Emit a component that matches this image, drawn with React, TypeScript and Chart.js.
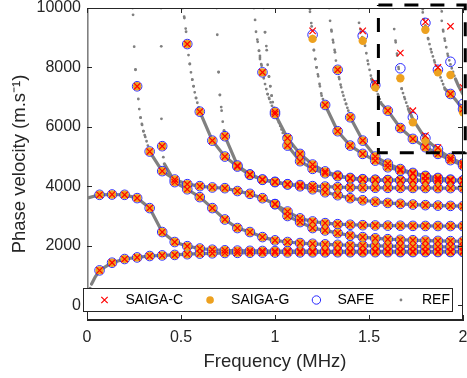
import React, { useEffect, useRef } from 'react';
import { Chart, registerables } from 'chart.js';

Chart.register(...registerables);

// ---------- axes ----------
const xTicks = [0, 0.5, 1, 1.5, 2];
const yTicks = [0, 2000, 4000, 6000, 8000, 10000];
const xRange = [0, 2];
const yRange = [-500, 10000];
const xTitle = 'Frequency (MHz)';
const yTitle = 'Phase velocity (m.s\u207B\u00B9)';
const seriesNames = ['SAIGA-C', 'SAIGA-G', 'SAFE', 'REF'];

// frequency step of the SAIGA / SAFE samples (MHz): sample k is at k * freqStep
const freqStep = 1 / 15;

// REF points lying on f = 0
const refAxis = [[0, 0], [0, 10000]];

// ---------- modes: extra REF points [f, v], first sample index, velocities at samples ----------
const a0Ref = [[0, 0], [0.01, 450], [0.025, 720], [0.045, 960]];
const a0K0 = 1;
const a0V = [1170, 1428, 1552, 1606, 1653, 1673, 1690, 1715, 1735, 1745, 1755, 1760, 1765, 1768, 1771, 1773, 1775, 1777, 1778, 1779, 1780, 1781, 1782, 1783, 1784, 1785, 1786, 1787, 1788, 1789];

const s0Ref = [[0, 3600]];
const s0K0 = 1;
const s0V = [3713, 3723, 3713, 3602, 3266, 2460, 2124, 1985, 1905, 1865, 1845, 1835, 1828, 1823, 1820, 1818, 1816, 1815, 1814, 1813, 1812, 1812, 1811, 1811, 1811, 1810, 1810, 1810, 1810, 1810];

const m2Ref = [[0.243, 10000], [0.245, 9770], [0.251, 8700], [0.258, 7920], [0.273, 6938], [0.278, 6600], [0.285, 6310], [0.293, 6065], [0.3, 5853], [0.31, 5660]];
const m2K0 = 4;
const m2V = [7365, 5170, 4510, 4227, 4072, 4005, 3960, 3937, 3840, 3746, 3600, 3400, 3150, 2920, 2816, 2760, 2725, 2705, 2690, 2682, 2676, 2672, 2668, 2665, 2663, 2662, 2661];

const nRef = [[0.933, 3600]];
const nK0 = 15;
const nV = [3400, 3000, 2795, 2594, 2514, 2425, 2345, 2290, 2250, 2220, 2200, 2185, 2172, 2162, 2155, 2150];

const m3Ref = [[0.394, 10000], [0.395, 8710], [0.396, 6270], [0.406, 4980], [0.412, 4750]];
const m3K0 = 6;
const m3V = [5350, 4140, 3900, 3635, 3266, 2883, 2594, 2460, 2290, 2180, 2124, 2090, 2065, 2045, 2030, 2015, 2005, 1995, 1987, 1980, 1974, 1968, 1964, 1961, 1958];

const dRef = [[0.51, 10000], [0.518, 9660], [0.527, 9200], [0.54, 8417], [0.547, 8115], [0.553, 7835], [0.56, 7587], [0.567, 7365], [0.573, 7163], [0.58, 6970]];
const dK0 = 8;
const dV = [8786, 6512, 5537, 5000, 4664, 4385, 4217, 4140, 4060, 4040, 4005, 3990, 3970, 3960, 3955, 3950, 3948, 3946, 3944, 3942, 3940, 3939, 3938];

const eRef = [[0.69, 10000], [0.693, 9100], [0.7, 7835], [0.707, 7070], [0.716, 6545], [0.722, 6175], [0.729, 5870]];
const eK0 = 11;
const eV = [5686, 4700, 4400, 4230, 4150, 4070, 4000, 3900, 3800, 3700, 3600, 3530, 3480, 3440, 3410, 3385, 3365, 3350, 3340, 3330];

const fRef = [[0.888, 10000], [0.894, 9600], [0.899, 9200], [0.908, 8860], [0.915, 8560], [0.92, 8280], [0.929, 8060], [0.947, 7440], [0.961, 7100], [0.97, 6940]];
const fK0 = 14;
const fV = [7835, 6434, 5618, 5090, 4731, 4500, 4360, 4260, 4225, 4210, 4203, 4200, 4198, 4196, 4194, 4192, 4190];

const gRef = [[0.94, 10000], [0.947, 9180], [0.956, 8580], [0.961, 8090], [0.968, 7690], [0.975, 7365], [0.982, 7050], [0.988, 6830]];
const gK0 = 15;
const gV = [6500, 5370, 4845, 4586, 4440, 4340, 4280, 4240, 4220, 4210, 4204, 4200, 4197, 4195, 4193, 4191];

const hRef = [[1.183, 10000], [1.186, 9870], [1.195, 9380], [1.207, 8580], [1.214, 8280], [1.221, 8000], [1.23, 7700], [1.239, 7365], [1.248, 7050]];
const hK0 = 18;
const hV = [9050, 6737, 5853, 5370, 5090, 4865, 4640, 4530, 4420, 4330, 4260, 4210, 4190];

const iRef = [[1.288, 10000], [1.293, 9570], [1.301, 9210], [1.31, 8840], [1.319, 8510], [1.324, 8230], [1.342, 7610], [1.352, 7330], [1.364, 7050], [1.378, 6770], [1.39, 6545]];
const iK0 = 20;
const iV = [7920, 6323, 5537, 5000, 4760, 4580, 4450, 4350, 4280, 4225, 4195];

const jRef = [[1.445, 10000], [1.447, 9500], [1.457, 9190], [1.479, 8730], [1.496, 8110], [1.514, 7610], [1.55, 7050], [1.567, 6770]];
const jK0 = 22;
const jV = [8950, 7330, 6545, 5960, 5595, 5315, 5090, 4880, 4697];

const kRef = [[1.628, 10000], [1.634, 9290], [1.642, 8845], [1.65, 8400], [1.658, 7950], [1.674, 7275], [1.691, 6938], [1.71, 6600]];
const kK0 = 25;
const kV = [7550, 6250, 5600, 5235, 4950, 4760];

const lRef = [[1.782, 10000], [1.786, 9850], [1.815, 8950], [1.833, 8510], [1.85, 8170], [1.904, 7275], [1.957, 6938]];
const lK0 = 27;
const lV = [9400, 7890, 7107, 6600];

const mRef = [[1.883, 10000], [1.887, 9570], [1.895, 9210], [1.904, 8900], [1.92, 8390], [1.96, 7610], [1.977, 7365]];
const mK0 = 29;
const mV = [8100, 7100];

// samples where the three methods differ from REF: [sample index, velocity]
const saigaCDiv = [[18, 9230], [22, 9230], [23, 7500], [25, 8485], [26, 6545], [27, 5705], [28, 5300], [27, 9530], [28, 8000], [29, 9385], [30, 7330]];
const saigaGDiv = [[18, 8960], [22, 8900], [23, 7330], [25, 7634], [26, 6155], [27, 5537], [28, 5200], [27, 9270], [28, 7836], [29, 7745], [30, 6490]];
const safeDiv = [[18, 9100], [22, 9065], [23, 7400], [25, 7970], [26, 6323], [27, 5620], [28, 5250], [27, 9500], [28, 7920], [29, 8190], [30, 6770]];

// dashed zoom rectangle (data coordinates)
const zoomBoxF = [1.55, 2.012];
const zoomBoxV = [5130, 10100];

// ---------- build datasets ----------
const modes = [
  { ref: a0Ref, k0: a0K0, v: a0V, markFrom: 1 },
  { ref: s0Ref, k0: s0K0, v: s0V, markFrom: 1 },
  { ref: m2Ref, k0: m2K0, v: m2V, markFrom: 1 },
  { ref: nRef, k0: nK0, v: nV, markFrom: 1 },
  { ref: m3Ref, k0: m3K0, v: m3V, markFrom: 1 },
  { ref: dRef, k0: dK0, v: dV, markFrom: 1 },
  { ref: eRef, k0: eK0, v: eV, markFrom: 1 },
  { ref: fRef, k0: fK0, v: fV, markFrom: 1 },
  { ref: gRef, k0: gK0, v: gV, markFrom: 1 },
  { ref: hRef, k0: hK0, v: hV, markFrom: 19 },
  { ref: iRef, k0: iK0, v: iV, markFrom: 1 },
  { ref: jRef, k0: jK0, v: jV, markFrom: 24 },
  { ref: kRef, k0: kK0, v: kV, markFrom: 29 },
  { ref: lRef, k0: lK0, v: lV, markFrom: 29 },
  { ref: mRef, k0: mK0, v: mV, markFrom: 31 },
];

const gridPoints = (k0: number, vals: number[]) => vals.map((v, i) => ({ x: (k0 + i) * freqStep, y: v, k: k0 + i }));

const refData: { x: number; y: number | null }[] = [];
const addRef = (pts: { x: number; y: number }[]) => {
  const s = pts.slice().sort((a, b) => a.x - b.x);
  s.forEach((p) => refData.push({ x: p.x, y: p.y }));
  refData.push({ x: s[s.length - 1].x, y: null });
};
addRef(refAxis.map(([x, y]) => ({ x, y })));
modes.forEach((m) => addRef([...m.ref.map(([x, y]) => ({ x, y })), ...gridPoints(m.k0, m.v)]));

const shared = modes.flatMap((m) => gridPoints(m.k0, m.v).filter((p) => p.k >= m.markFrom).map((p) => ({ x: p.x, y: p.y })));
const divPts = (d: number[][]) => d.map(([k, v]) => ({ x: k * freqStep, y: v }));

const boxData = [
  { x: zoomBoxF[0], y: zoomBoxV[1] },
  { x: zoomBoxF[1], y: zoomBoxV[1] },
  { x: zoomBoxF[1], y: zoomBoxV[0] },
  { x: zoomBoxF[0], y: zoomBoxV[0] },
  { x: zoomBoxF[0], y: zoomBoxV[1] },
];

// ---------- styles ----------
const FONT = "'Liberation Sans', Arial, Helvetica, sans-serif";
const AX = '#262626';
const RED = '#ff0000';
const ORANGE = '#eda11f';
const BLUE = '#2a2aff';
const GRAY = '#808080';

const refGap = (c: any) => {
  const dx = Math.abs(c.p1.x - c.p0.x);
  const dy = Math.abs(c.p1.y - c.p0.y);
  if (dx === 0) return 0;
  return 1.3 * Math.sqrt(1 + (dy / dx) * (dy / dx));
};
const refDash = (c: any) => {
  const g = refGap(c);
  return g < 3.4 ? undefined : [0, g];
};
const refWidth = (c: any) => (refGap(c) < 3.4 ? 3.2 : 2.8);

const noPad = (s: any) => {
  s.paddingLeft = 0;
  s.paddingRight = 0;
  s.paddingTop = 0;
  s.paddingBottom = 0;
};

const framePlugin = {
  id: 'frame',
  afterDatasetsDraw(chart: any) {
    const { ctx, chartArea: a, scales } = chart;
    ctx.save();
    ctx.strokeStyle = AX;
    ctx.lineWidth = 1;
    ctx.beginPath();
    ctx.moveTo(a.left, a.top + 0.5);
    ctx.lineTo(a.right, a.top + 0.5);
    ctx.moveTo(a.right - 0.5, a.top);
    ctx.lineTo(a.right - 0.5, a.bottom);
    ctx.moveTo(a.left, a.bottom - 0.5);
    ctx.lineTo(a.right, a.bottom - 0.5);
    xTicks.forEach((t) => {
      const px = Math.round(scales.x.getPixelForValue(t)) + 0.5;
      ctx.moveTo(px, a.bottom);
      ctx.lineTo(px, a.bottom - 5);
      ctx.moveTo(px, a.top);
      ctx.lineTo(px, a.top + 5);
    });
    yTicks.forEach((t) => {
      const py = Math.round(scales.y.getPixelForValue(t)) + 0.5;
      ctx.moveTo(a.left, py);
      ctx.lineTo(a.left + 5, py);
      ctx.moveTo(a.right, py);
      ctx.lineTo(a.right - 5, py);
    });
    ctx.stroke();
    ctx.restore();
  },
  afterDraw(chart: any) {
    const { ctx, chartArea: a } = chart;
    const left = a.left - 3.5;
    const right = a.right - 10.5;
    const bottom = a.bottom - 8.5;
    const top = bottom - 23;
    const cy = (top + bottom) / 2;
    ctx.save();
    ctx.fillStyle = '#ffffff';
    ctx.fillRect(left, top, right - left, bottom - top);
    ctx.strokeStyle = AX;
    ctx.lineWidth = 1;
    ctx.strokeRect(left, top, right - left, bottom - top);
    ctx.font = `14px ${FONT}`;
    ctx.textBaseline = 'middle';
    ctx.textAlign = 'left';
    let tx = left + 42;
    seriesNames.forEach((name, i) => {
      const ix = tx - 21;
      ctx.beginPath();
      if (i === 0) {
        const h = 3.2;
        ctx.strokeStyle = RED;
        ctx.lineWidth = 1.2;
        ctx.moveTo(ix - h, cy - h);
        ctx.lineTo(ix + h, cy + h);
        ctx.moveTo(ix + h, cy - h);
        ctx.lineTo(ix - h, cy + h);
        ctx.stroke();
      } else if (i === 1) {
        ctx.fillStyle = ORANGE;
        ctx.arc(ix, cy, 3.8, 0, Math.PI * 2);
        ctx.fill();
      } else if (i === 2) {
        ctx.strokeStyle = BLUE;
        ctx.lineWidth = 1;
        ctx.arc(ix, cy, 4.2, 0, Math.PI * 2);
        ctx.stroke();
      } else {
        ctx.fillStyle = GRAY;
        ctx.arc(ix, cy, 1.4, 0, Math.PI * 2);
        ctx.fill();
      }
      ctx.fillStyle = '#000000';
      ctx.fillText(name, tx, cy + 0.5);
      tx += ctx.measureText(name).width + 48;
    });
    ctx.restore();
  },
};

export default function App() {
  const canvasRef = useRef<HTMLCanvasElement>(null);

  useEffect(() => {
    const canvas = canvasRef.current;
    if (!canvas) return;
    Chart.defaults.font.family = FONT;
    Chart.defaults.color = AX;
    const chart = new Chart(canvas, {
      type: 'scatter',
      data: {
        datasets: [
          {
            label: seriesNames[0],
            data: [...shared, ...divPts(saigaCDiv)],
            pointStyle: 'crossRot',
            pointRadius: 4.5,
            borderColor: RED,
            backgroundColor: RED,
            pointBorderWidth: 1.2,
          } as any,
          {
            label: seriesNames[1],
            data: [...shared, ...divPts(saigaGDiv)],
            pointStyle: 'circle',
            pointRadius: 4.2,
            borderColor: ORANGE,
            backgroundColor: ORANGE,
            pointBorderWidth: 0,
          },
          {
            label: seriesNames[2],
            data: [...shared, ...divPts(safeDiv)],
            pointStyle: 'circle',
            pointRadius: 4.8,
            borderColor: BLUE,
            backgroundColor: 'rgba(0,0,0,0)',
            pointBorderWidth: 1,
          },
          {
            label: seriesNames[3],
            data: refData,
            showLine: true,
            pointRadius: 0,
            borderColor: GRAY,
            borderWidth: 3.2,
            borderCapStyle: 'round',
            borderJoinStyle: 'round',
            spanGaps: false,
            segment: { borderDash: refDash, borderWidth: refWidth },
          } as any,
          {
            label: 'zoom',
            data: boxData,
            showLine: true,
            pointRadius: 0,
            borderColor: '#000000',
            borderWidth: 3,
            borderDash: [14, 12],
            borderJoinStyle: 'miter',
            clip: false,
            order: -1,
          } as any,
        ],
      },
      options: {
        animation: false,
        responsive: false,
        devicePixelRatio: 1,
        events: [],
        layout: { autoPadding: false, padding: { left: 0, right: 4, top: 8, bottom: 0 } },
        plugins: { legend: { display: false }, tooltip: { enabled: false } },
        scales: {
          x: {
            type: 'linear',
            min: xRange[0],
            max: xRange[1],
            afterBuildTicks: (s: any) => {
              s.ticks = xTicks.map((v) => ({ value: v }));
            },
            afterFit: (s: any) => {
              s.height = 58;
              noPad(s);
            },
            grid: { display: false, drawTicks: false },
            border: { display: true, color: AX, width: 1 },
            ticks: {
              autoSkip: false,
              maxRotation: 0,
              padding: 8,
              color: AX,
              font: { size: 16, family: FONT },
              callback: (v: any) => String(v),
            },
            title: {
              display: true,
              text: xTitle,
              color: AX,
              font: { size: 18.5, family: FONT },
              padding: { top: 0, bottom: 5.4 },
            },
          },
          y: {
            type: 'linear',
            min: yRange[0],
            max: yRange[1],
            afterBuildTicks: (s: any) => {
              s.ticks = yTicks.map((v) => ({ value: v }));
            },
            afterFit: (s: any) => {
              s.width = 87;
              noPad(s);
            },
            grid: { display: false, drawTicks: false },
            border: { display: true, color: AX, width: 1 },
            ticks: {
              autoSkip: false,
              padding: 6,
              color: AX,
              font: { size: 16, family: FONT },
              callback: (v: any) => String(v),
            },
            title: {
              display: true,
              text: yTitle,
              color: AX,
              font: { size: 18.5, family: FONT },
              padding: { top: 9.2, bottom: 0 },
            },
          },
        },
      },
      plugins: [framePlugin],
    } as any);
    return () => chart.destroy();
  }, []);

  return (
    <canvas
      ref={canvasRef}
      width={467}
      height={378}
      style={{ position: 'fixed', left: 0, top: 0, width: 467, height: 378 }}
    />
  );
}
